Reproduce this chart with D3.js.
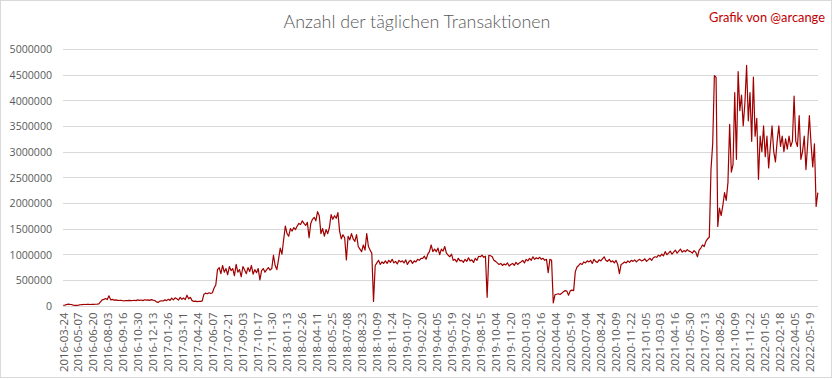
<!DOCTYPE html>
<html><head><meta charset="utf-8">
<script src="https://cdn.jsdelivr.net/npm/d3@7"></script>
<style>body{margin:0;background:#fff}svg{display:block}</style>
</head><body>
<svg id="chart" width="833" height="379"></svg>
<script>
const chartTitle = "Anzahl der täglichen Transaktionen";
const creditText = "Grafik von @arcange";
const categoryCount = 2226;   // number of daily categories on the x axis
const sampleStep = 5;         // values below are read every 5th day
const tickEvery = 44;         // a date label every 44 categories
const tickLabels = [
 "2016-03-24","2016-05-07","2016-06-20","2016-08-03","2016-09-16","2016-10-30","2016-12-13",
 "2017-01-26","2017-03-11","2017-04-24","2017-06-07","2017-07-21","2017-09-03","2017-10-17","2017-11-30",
 "2018-01-13","2018-02-26","2018-04-11","2018-05-25","2018-07-08","2018-08-23","2018-10-09","2018-11-24",
 "2019-01-07","2019-02-20","2019-04-05","2019-05-19","2019-07-02","2019-08-15","2019-10-04","2019-11-20",
 "2020-01-03","2020-02-16","2020-04-04","2020-05-19","2020-07-04","2020-08-24","2020-10-09","2020-11-22",
 "2021-01-05","2021-03-03","2021-04-16","2021-05-30","2021-07-13","2021-08-26","2021-10-09","2021-11-22",
 "2022-01-05","2022-02-18","2022-04-05","2022-05-19"];
const yTicks = [0,500000,1000000,1500000,2000000,2500000,3000000,3500000,4000000,4500000,5000000];
const txValues = [
 5000,8000,20000,25000,22000,20000,5000,3000,4000,6000,
 15000,18000,20000,19000,21000,22000,20000,23000,22000,24000,
 25000,30000,70000,110000,120000,135000,115000,190000,110000,120000,
 105000,110000,100000,98000,102000,95000,92000,97000,95000,100000,
 95000,98000,102000,96000,110000,100000,108000,95000,112000,104000,
 110000,100000,115000,105000,98000,70000,60000,85000,92000,88000,
 110000,95000,120000,100000,145000,110000,150000,130000,105000,160000,
 120000,145000,115000,200000,130000,160000,95000,80000,85000,75000,
 80000,82000,90000,220000,240000,230000,250000,235000,250000,340000,
 400000,700000,740000,620000,780000,650000,720000,600000,760000,680000,
 720000,580000,800000,650000,700000,560000,760000,690000,620000,740000,
 660000,780000,610000,700000,640000,720000,500000,680000,720000,650000,
 700000,740000,690000,720000,980000,780000,700000,900000,1120000,1000000,
 1280000,1550000,1400000,1350000,1500000,1450000,1520000,1480000,1550000,1600000,
 1580000,1650000,1600000,1560000,1620000,1320000,1600000,1680000,1720000,1650000,
 1830000,1750000,1400000,1500000,1350000,1480000,1400000,1520000,1770000,1680000,
 1750000,1700000,1810000,1450000,1300000,1380000,1320000,890000,1350000,1280000,
 1400000,1300000,1250000,1380000,1150000,1100000,1050000,1180000,1080000,1400000,
 1150000,1080000,1020000,80000,780000,830000,880000,800000,850000,820000,
 870000,820000,880000,840000,900000,830000,860000,810000,880000,850000,
 870000,830000,890000,800000,860000,880000,820000,870000,850000,900000,
 880000,920000,920000,960000,900000,1000000,1050000,1180000,1050000,1100000,
 1050000,1120000,990000,1100000,1060000,1150000,1020000,980000,950000,1000000,
 880000,900000,850000,920000,870000,880000,840000,900000,860000,930000,
 870000,890000,840000,920000,880000,960000,950000,980000,940000,960000,
 160000,980000,970000,950000,880000,860000,830000,800000,820000,780000,
 810000,790000,830000,770000,800000,820000,780000,840000,800000,830000,
 850000,880000,830000,900000,870000,920000,880000,950000,900000,930000,
 910000,940000,900000,920000,880000,900000,640000,900000,880000,50000,
 210000,220000,230000,215000,240000,270000,290000,280000,200000,285000,
 300000,290000,660000,750000,780000,820000,800000,850000,830000,870000,
 850000,880000,820000,900000,860000,840000,890000,870000,910000,950000,
 880000,860000,900000,850000,870000,830000,880000,800000,620000,800000,
 820000,850000,830000,870000,840000,880000,860000,890000,850000,880000,
 900000,870000,880000,910000,860000,890000,920000,880000,930000,950000,
 940000,980000,960000,1000000,970000,1050000,990000,1020000,1060000,1000000,
 1040000,1080000,1020000,1060000,1100000,1040000,1070000,1050000,1090000,1060000,
 1050000,1020000,1070000,1040000,950000,1080000,1120000,1180000,1150000,1250000,
 1300000,1330000,2650000,3150000,4480000,4450000,1540000,1900000,1750000,1950000,
 2200000,2050000,2400000,3530000,2600000,2750000,4150000,2850000,4560000,3800000,
 4100000,3500000,3950000,4680000,3600000,4150000,3200000,4450000,3300000,3650000,
 2460000,3300000,3000000,3500000,2900000,3300000,2680000,3100000,3500000,3000000,
 2800000,3200000,3500000,3100000,3300000,3000000,3250000,3050000,3300000,3100000,
 3200000,4080000,3200000,3100000,3700000,2850000,3000000,3300000,2650000,3150000,
 3700000,3150000,2700000,3150000,1930000,2200000];

const svg = d3.select("#chart");
const W = 833, H = 379;
const plot = {left: 63, right: 818, top: 49, bottom: 305.5};
const textGrey = "#595959";

svg.append("rect").attr("x",0.5).attr("y",0.5).attr("width",W-2).attr("height",H-2)
  .attr("fill","#fff").attr("stroke","#d9d9d9");

const x = d3.scaleBand().domain(d3.range(categoryCount)).range([plot.left, plot.right]);
const bw = x.bandwidth();
const cx = i => x(i) + bw/2;
const y = d3.scaleLinear().domain([0, 5000000]).range([plot.bottom, plot.top]);

// gridlines
svg.append("g").selectAll("line").data(yTicks).join("line")
  .attr("x1", plot.left).attr("x2", plot.right)
  .attr("y1", d => Math.round(y(d)) + 0.5).attr("y2", d => Math.round(y(d)) + 0.5)
  .attr("stroke","#d9d9d9").attr("stroke-width",1);

// y axis labels
const yAxis = d3.axisLeft(y).tickValues(yTicks).tickFormat(d3.format("d")).tickSize(0).tickPadding(11);
const gy = svg.append("g").attr("transform",`translate(${plot.left},0.5)`).call(yAxis);
gy.select(".domain").remove();
gy.selectAll("text").attr("fill",textGrey).style("font-family","'Open Sans', sans-serif").style("font-size","10.6px");

// x axis labels
const xTickIdx = tickLabels.map((_, j) => j * tickEvery);
const xAxis = d3.axisBottom(x).tickValues(xTickIdx).tickFormat((d) => tickLabels[d / tickEvery]).tickSize(0);
const gx = svg.append("g").attr("transform",`translate(0,${plot.bottom})`).call(xAxis);
gx.select(".domain").remove();
gx.selectAll("text")
  .attr("fill",textGrey)
  .style("font-family","'Open Sans', sans-serif").style("font-size","11.4px")
  .attr("text-anchor","end")
  .attr("transform","rotate(-90)")
  .attr("x",-7).attr("y",0).attr("dy","0.35em");

// series line
const pts = txValues.map((v, k) => [k * sampleStep, v]);
const line = d3.line().x(d => cx(d[0])).y(d => y(d[1]));
svg.append("path").datum(pts).attr("d", line)
  .attr("fill","none").attr("stroke","#a00000").attr("stroke-width",1.2).attr("stroke-linejoin","round");

// title
const t = svg.append("text").text(chartTitle)
  .attr("x", 417).attr("y", 21).attr("text-anchor","middle").attr("dominant-baseline","central")
  .attr("fill",textGrey).style("font-family","Lato, sans-serif").style("font-weight","300").style("font-size","18px");
const tw = t.node().getComputedTextLength();
t.style("font-size", (18 * 267 / tw).toFixed(2) + "px");

const c = svg.append("text").text(creditText)
  .attr("x", 825).attr("y", 17).attr("text-anchor","end").attr("dominant-baseline","central")
  .attr("fill","#c00000").style("font-family","Lato, sans-serif").style("font-size","13px");
const cw = c.node().getComputedTextLength();
c.style("font-size", (13 * 116 / cw).toFixed(2) + "px");
</script>
</body></html>
